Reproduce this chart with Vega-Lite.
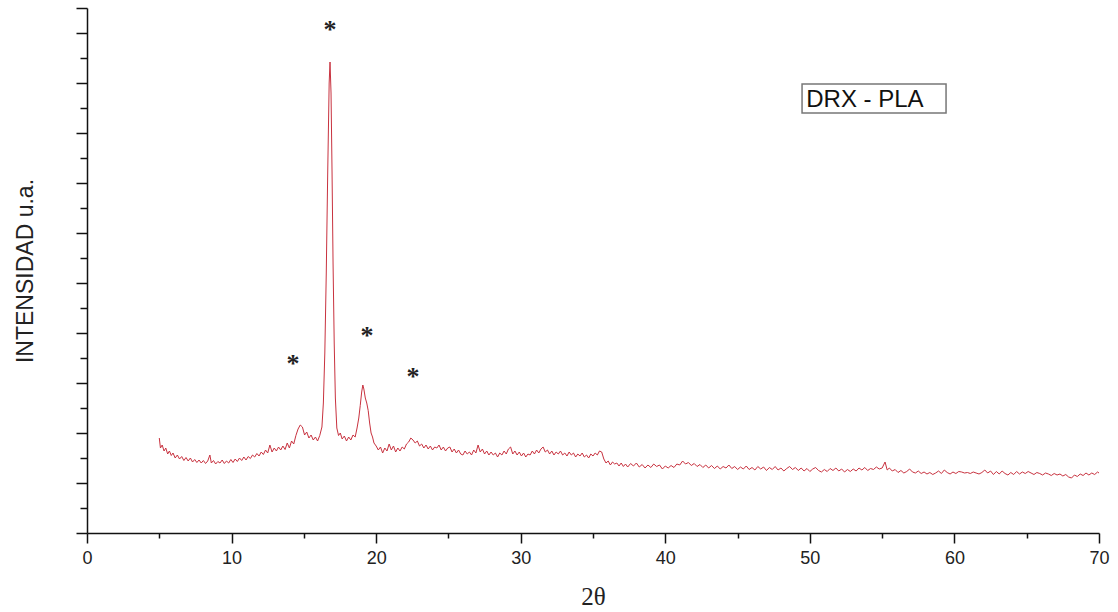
{
  "$schema": "https://vega.github.io/schema/vega-lite/v6.json",
  "width": 1012,
  "height": 525,
  "autosize": {"type": "none"},
  "padding": {"left": 87, "top": 8, "right": 19, "bottom": 79},
  "background": "white",
  "config": {"view": {"stroke": null}},
  "encoding": {
    "x": {
      "field": "t", "type": "quantitative",
      "scale": {"domain": [0, 70], "nice": false, "zero": false},
      "axis": {
        "title": "2θ",
        "values": [0,5,10,15,20,25,30,35,40,45,50,55,60,65,70],
        "labelExpr": "datum.value % 10 === 0 ? datum.label : ''",
        "grid": false,
        "tickSize": {"condition": {"test": "datum.value % 10 === 0", "value": 10}, "value": 5},
        "tickColor": "#111", "tickWidth": 1.5,
        "domainColor": "#111", "domainWidth": 1.5,
        "labelFont": "Liberation Sans", "labelFontSize": 18, "labelColor": "#222",
        "labelPadding": 6, "labelFlush": false, "labelOverlap": false,
        "titleFont": "Liberation Serif", "titleFontSize": 25, "titleFontWeight": "normal",
        "titleColor": "#222", "titlePadding": 17
      }
    },
    "y": {
      "field": "i", "type": "quantitative",
      "scale": {"domain": [0, 10.5], "nice": false, "zero": false},
      "axis": {
        "title": "INTENSIDAD u.a.",
        "values": [0,0.5,1,1.5,2,2.5,3,3.5,4,4.5,5,5.5,6,6.5,7,7.5,8,8.5,9,9.5,10,10.5],
        "labels": false,
        "grid": false,
        "tickSize": {"condition": {"test": "datum.value % 1 === 0 || datum.value === 10.5", "value": 11}, "value": 7},
        "tickColor": "#111", "tickWidth": 1.5,
        "domainColor": "#111", "domainWidth": 1.5,
        "titleFont": "Liberation Sans", "titleFontSize": 23, "titleFontWeight": "normal",
        "titleColor": "#222", "titlePadding": 38
      }
    }
  },
  "layer": [
    {
      "data": {"values": [
        {"t":5.00,"i":1.90},{"t":5.08,"i":1.70},{"t":5.20,"i":1.76},{"t":5.33,"i":1.64},{"t":5.45,"i":1.70},{"t":5.58,"i":1.58},{"t":5.70,"i":1.64},{"t":5.83,"i":1.55},{"t":5.95,"i":1.60},
        {"t":6.10,"i":1.50},{"t":6.25,"i":1.56},{"t":6.40,"i":1.48},{"t":6.55,"i":1.53},{"t":6.70,"i":1.45},{"t":6.85,"i":1.51},{"t":7.00,"i":1.44},{"t":7.15,"i":1.50},{"t":7.30,"i":1.42},{"t":7.45,"i":1.47},
        {"t":7.60,"i":1.41},{"t":7.75,"i":1.46},{"t":7.90,"i":1.40},{"t":8.05,"i":1.45},{"t":8.20,"i":1.39},{"t":8.35,"i":1.44},{"t":8.50,"i":1.56},{"t":8.60,"i":1.40},{"t":8.75,"i":1.45},{"t":8.90,"i":1.38},
        {"t":9.05,"i":1.43},{"t":9.20,"i":1.40},{"t":9.35,"i":1.46},{"t":9.50,"i":1.39},{"t":9.65,"i":1.44},{"t":9.80,"i":1.40},{"t":9.95,"i":1.47},{"t":10.10,"i":1.41},{"t":10.25,"i":1.48},{"t":10.40,"i":1.43},
        {"t":10.55,"i":1.50},{"t":10.70,"i":1.45},{"t":10.85,"i":1.52},{"t":11.00,"i":1.46},{"t":11.15,"i":1.53},{"t":11.30,"i":1.49},{"t":11.45,"i":1.56},{"t":11.60,"i":1.52},{"t":11.75,"i":1.59},{"t":11.90,"i":1.54},
        {"t":12.05,"i":1.62},{"t":12.20,"i":1.57},{"t":12.35,"i":1.66},{"t":12.50,"i":1.60},{"t":12.65,"i":1.76},{"t":12.80,"i":1.62},{"t":12.95,"i":1.70},{"t":13.10,"i":1.64},{"t":13.25,"i":1.72},{"t":13.40,"i":1.66},
        {"t":13.55,"i":1.74},{"t":13.70,"i":1.67},{"t":13.85,"i":1.80},{"t":14.00,"i":1.70},{"t":14.15,"i":1.84},{"t":14.30,"i":1.78},{"t":14.45,"i":1.95},{"t":14.60,"i":2.08},{"t":14.75,"i":2.16},{"t":14.90,"i":2.12},
        {"t":15.05,"i":1.96},{"t":15.20,"i":2.02},{"t":15.35,"i":1.90},{"t":15.50,"i":1.96},{"t":15.65,"i":1.86},{"t":15.80,"i":1.92},{"t":15.95,"i":1.84},{"t":16.10,"i":1.95},{"t":16.25,"i":2.12},{"t":16.35,"i":2.60},
        {"t":16.45,"i":3.60},{"t":16.55,"i":5.20},{"t":16.65,"i":7.20},{"t":16.75,"i":9.00},{"t":16.81,"i":9.42},{"t":16.88,"i":8.80},{"t":16.95,"i":7.20},{"t":17.02,"i":5.40},{"t":17.10,"i":3.80},{"t":17.18,"i":2.70},
        {"t":17.28,"i":2.10},{"t":17.40,"i":1.95},{"t":17.52,"i":2.00},{"t":17.65,"i":1.88},{"t":17.80,"i":1.94},{"t":17.95,"i":1.84},{"t":18.10,"i":1.92},{"t":18.25,"i":1.86},{"t":18.40,"i":1.96},{"t":18.55,"i":1.92},
        {"t":18.68,"i":2.10},{"t":18.80,"i":2.30},{"t":18.90,"i":2.55},{"t":19.00,"i":2.82},{"t":19.08,"i":2.96},{"t":19.15,"i":2.88},{"t":19.25,"i":2.70},{"t":19.35,"i":2.60},{"t":19.45,"i":2.45},{"t":19.55,"i":2.20},
        {"t":19.65,"i":2.00},{"t":19.75,"i":1.92},{"t":19.85,"i":1.80},{"t":20.00,"i":1.74},{"t":20.15,"i":1.66},{"t":20.30,"i":1.72},{"t":20.45,"i":1.60},{"t":20.60,"i":1.70},{"t":20.75,"i":1.64},{"t":20.90,"i":1.78},
        {"t":21.05,"i":1.66},{"t":21.20,"i":1.74},{"t":21.35,"i":1.62},{"t":21.50,"i":1.70},{"t":21.65,"i":1.64},{"t":21.80,"i":1.72},{"t":21.95,"i":1.68},{"t":22.10,"i":1.78},{"t":22.25,"i":1.82},{"t":22.40,"i":1.90},
        {"t":22.55,"i":1.86},{"t":22.70,"i":1.80},{"t":22.85,"i":1.84},{"t":23.00,"i":1.74},{"t":23.15,"i":1.78},{"t":23.30,"i":1.70},{"t":23.45,"i":1.76},{"t":23.60,"i":1.68},{"t":23.75,"i":1.74},{"t":23.90,"i":1.66},
        {"t":24.05,"i":1.72},{"t":24.20,"i":1.70},{"t":24.35,"i":1.76},{"t":24.50,"i":1.66},{"t":24.65,"i":1.72},{"t":24.80,"i":1.64},{"t":24.95,"i":1.70},{"t":25.10,"i":1.72},{"t":25.25,"i":1.62},{"t":25.40,"i":1.68},
        {"t":25.55,"i":1.60},{"t":25.70,"i":1.66},{"t":25.85,"i":1.58},{"t":26.00,"i":1.56},{"t":26.15,"i":1.64},{"t":26.30,"i":1.58},{"t":26.45,"i":1.62},{"t":26.60,"i":1.56},{"t":26.75,"i":1.66},{"t":26.90,"i":1.60},
        {"t":27.05,"i":1.76},{"t":27.20,"i":1.62},{"t":27.35,"i":1.68},{"t":27.50,"i":1.58},{"t":27.65,"i":1.64},{"t":27.80,"i":1.56},{"t":27.95,"i":1.62},{"t":28.10,"i":1.56},{"t":28.25,"i":1.60},{"t":28.40,"i":1.52},
        {"t":28.55,"i":1.60},{"t":28.70,"i":1.56},{"t":28.85,"i":1.64},{"t":29.00,"i":1.58},{"t":29.15,"i":1.68},{"t":29.30,"i":1.72},{"t":29.45,"i":1.58},{"t":29.60,"i":1.64},{"t":29.75,"i":1.56},{"t":29.90,"i":1.62},
        {"t":30.05,"i":1.54},{"t":30.20,"i":1.60},{"t":30.35,"i":1.52},{"t":30.50,"i":1.58},{"t":30.65,"i":1.56},{"t":30.80,"i":1.64},{"t":30.95,"i":1.58},{"t":31.10,"i":1.66},{"t":31.25,"i":1.60},{"t":31.40,"i":1.68},
        {"t":31.55,"i":1.72},{"t":31.70,"i":1.62},{"t":31.85,"i":1.66},{"t":32.00,"i":1.58},{"t":32.15,"i":1.64},{"t":32.30,"i":1.56},{"t":32.45,"i":1.62},{"t":32.60,"i":1.58},{"t":32.75,"i":1.64},{"t":32.90,"i":1.56},
        {"t":33.05,"i":1.60},{"t":33.20,"i":1.54},{"t":33.35,"i":1.62},{"t":33.50,"i":1.56},{"t":33.65,"i":1.60},{"t":33.80,"i":1.52},{"t":33.95,"i":1.58},{"t":34.10,"i":1.54},{"t":34.25,"i":1.60},{"t":34.40,"i":1.52},
        {"t":34.55,"i":1.56},{"t":34.70,"i":1.50},{"t":34.85,"i":1.58},{"t":35.00,"i":1.54},{"t":35.15,"i":1.60},{"t":35.30,"i":1.56},{"t":35.45,"i":1.64},{"t":35.60,"i":1.62},{"t":35.75,"i":1.48},{"t":35.90,"i":1.40},
        {"t":36.05,"i":1.44},{"t":36.20,"i":1.36},{"t":36.35,"i":1.42},{"t":36.50,"i":1.38},{"t":36.65,"i":1.40},{"t":36.80,"i":1.34},{"t":36.95,"i":1.40},{"t":37.10,"i":1.33},{"t":37.25,"i":1.38},{"t":37.40,"i":1.32},
        {"t":37.60,"i":1.39},{"t":37.80,"i":1.34},{"t":38.00,"i":1.40},{"t":38.20,"i":1.32},{"t":38.40,"i":1.37},{"t":38.60,"i":1.30},{"t":38.80,"i":1.36},{"t":39.00,"i":1.31},{"t":39.20,"i":1.38},{"t":39.40,"i":1.33},
        {"t":39.60,"i":1.36},{"t":39.80,"i":1.28},{"t":40.00,"i":1.34},{"t":40.20,"i":1.30},{"t":40.40,"i":1.35},{"t":40.60,"i":1.31},{"t":40.80,"i":1.38},{"t":41.00,"i":1.36},{"t":41.20,"i":1.44},{"t":41.40,"i":1.38},
        {"t":41.60,"i":1.41},{"t":41.80,"i":1.35},{"t":42.00,"i":1.39},{"t":42.20,"i":1.33},{"t":42.40,"i":1.37},{"t":42.60,"i":1.31},{"t":42.80,"i":1.36},{"t":43.00,"i":1.30},{"t":43.20,"i":1.35},{"t":43.40,"i":1.29},
        {"t":43.60,"i":1.34},{"t":43.80,"i":1.28},{"t":44.00,"i":1.33},{"t":44.20,"i":1.30},{"t":44.40,"i":1.36},{"t":44.60,"i":1.29},{"t":44.80,"i":1.33},{"t":45.00,"i":1.27},{"t":45.20,"i":1.32},{"t":45.40,"i":1.28},
        {"t":45.60,"i":1.34},{"t":45.80,"i":1.27},{"t":46.00,"i":1.31},{"t":46.20,"i":1.26},{"t":46.40,"i":1.33},{"t":46.60,"i":1.28},{"t":46.80,"i":1.32},{"t":47.00,"i":1.25},{"t":47.20,"i":1.31},{"t":47.40,"i":1.27},
        {"t":47.60,"i":1.33},{"t":47.80,"i":1.26},{"t":48.00,"i":1.30},{"t":48.20,"i":1.24},{"t":48.40,"i":1.29},{"t":48.60,"i":1.33},{"t":48.80,"i":1.27},{"t":49.00,"i":1.31},{"t":49.20,"i":1.25},{"t":49.40,"i":1.30},
        {"t":49.60,"i":1.24},{"t":49.80,"i":1.29},{"t":50.00,"i":1.23},{"t":50.20,"i":1.28},{"t":50.40,"i":1.31},{"t":50.60,"i":1.25},{"t":50.80,"i":1.22},{"t":51.00,"i":1.27},{"t":51.20,"i":1.23},{"t":51.40,"i":1.29},
        {"t":51.60,"i":1.25},{"t":51.80,"i":1.30},{"t":52.00,"i":1.24},{"t":52.20,"i":1.28},{"t":52.40,"i":1.22},{"t":52.60,"i":1.27},{"t":52.80,"i":1.23},{"t":53.00,"i":1.28},{"t":53.20,"i":1.24},{"t":53.40,"i":1.30},
        {"t":53.60,"i":1.26},{"t":53.80,"i":1.31},{"t":54.00,"i":1.25},{"t":54.20,"i":1.29},{"t":54.40,"i":1.27},{"t":54.60,"i":1.32},{"t":54.80,"i":1.28},{"t":55.00,"i":1.30},{"t":55.20,"i":1.42},{"t":55.35,"i":1.26},
        {"t":55.50,"i":1.30},{"t":55.70,"i":1.24},{"t":55.90,"i":1.27},{"t":56.10,"i":1.21},{"t":56.30,"i":1.25},{"t":56.50,"i":1.20},{"t":56.70,"i":1.23},{"t":56.90,"i":1.28},{"t":57.10,"i":1.22},{"t":57.30,"i":1.20},
        {"t":57.50,"i":1.24},{"t":57.70,"i":1.19},{"t":57.90,"i":1.22},{"t":58.10,"i":1.18},{"t":58.30,"i":1.21},{"t":58.50,"i":1.17},{"t":58.70,"i":1.20},{"t":58.90,"i":1.24},{"t":59.10,"i":1.19},{"t":59.30,"i":1.26},
        {"t":59.50,"i":1.21},{"t":59.70,"i":1.18},{"t":59.90,"i":1.22},{"t":60.10,"i":1.19},{"t":60.30,"i":1.23},{"t":60.50,"i":1.22},{"t":60.70,"i":1.20},{"t":60.90,"i":1.21},{"t":61.10,"i":1.19},{"t":61.30,"i":1.22},
        {"t":61.50,"i":1.20},{"t":61.70,"i":1.18},{"t":61.90,"i":1.21},{"t":62.10,"i":1.26},{"t":62.30,"i":1.20},{"t":62.50,"i":1.24},{"t":62.70,"i":1.17},{"t":62.90,"i":1.23},{"t":63.10,"i":1.18},{"t":63.30,"i":1.24},
        {"t":63.50,"i":1.19},{"t":63.70,"i":1.16},{"t":63.90,"i":1.21},{"t":64.10,"i":1.17},{"t":64.30,"i":1.23},{"t":64.50,"i":1.18},{"t":64.70,"i":1.22},{"t":64.90,"i":1.19},{"t":65.10,"i":1.23},{"t":65.30,"i":1.20},
        {"t":65.50,"i":1.17},{"t":65.70,"i":1.21},{"t":65.90,"i":1.19},{"t":66.10,"i":1.16},{"t":66.30,"i":1.20},{"t":66.50,"i":1.18},{"t":66.70,"i":1.15},{"t":66.90,"i":1.19},{"t":67.10,"i":1.16},{"t":67.30,"i":1.18},
        {"t":67.50,"i":1.14},{"t":67.70,"i":1.17},{"t":67.90,"i":1.12},{"t":68.10,"i":1.10},{"t":68.30,"i":1.16},{"t":68.50,"i":1.13},{"t":68.70,"i":1.18},{"t":68.90,"i":1.15},{"t":69.10,"i":1.20},{"t":69.30,"i":1.16},
        {"t":69.50,"i":1.20},{"t":69.70,"i":1.17},{"t":69.90,"i":1.22},{"t":70.00,"i":1.20}
      ]},
      "mark": {"type": "line", "color": "#c8323f", "strokeWidth": 1}
    },
    {
      "data": {"values": [
        {"t": 16.81, "i": 10.07, "s": "*"},
        {"t": 14.25, "i": 3.38, "s": "*"},
        {"t": 19.37, "i": 3.94, "s": "*"},
        {"t": 22.55, "i": 3.12, "s": "*"}
      ]},
      "mark": {"type": "text", "font": "Liberation Serif", "fontSize": 26, "fontWeight": "bold", "color": "#222", "baseline": "middle", "align": "center"},
      "encoding": {"text": {"field": "s"}}
    },
    {
      "data": {"values": [{"t": 49.46, "t2": 59.42, "i": 8.98, "i2": 8.40}]},
      "mark": {"type": "rect", "fill": "white", "stroke": "#777", "strokeWidth": 1.5},
      "encoding": {"x2": {"field": "t2"}, "y2": {"field": "i2"}}
    },
    {
      "data": {"values": [{"t": 49.75, "i": 8.67, "s": "DRX - PLA"}]},
      "mark": {"type": "text", "font": "Liberation Sans", "fontSize": 24, "color": "#111", "baseline": "middle", "align": "left"},
      "encoding": {"text": {"field": "s"}}
    }
  ]
}
